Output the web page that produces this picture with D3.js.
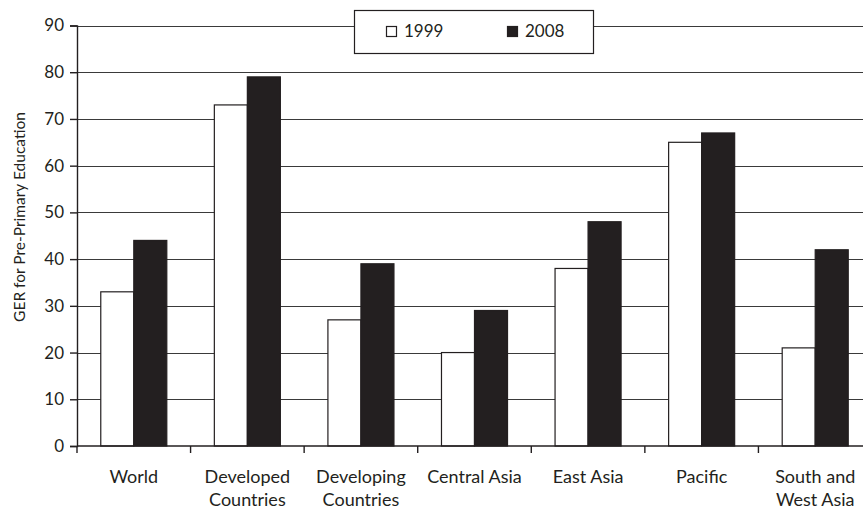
<!DOCTYPE html>
<html>
<head>
<meta charset="utf-8">
<script src="https://cdn.jsdelivr.net/npm/d3@7"></script>
<style>
  html, body { margin: 0; padding: 0; background: #fff; }
  svg { display: block; }
  text { font-family: Lato, "Open Sans", sans-serif; fill: #231f20; }
</style>
</head>
<body>
<svg id="chart" width="863" height="509"></svg>
<script>
// Gross enrolment ratio for pre-primary education, by region
const categories = [["World"], ["Developed", "Countries"], ["Developing", "Countries"], ["Central Asia"], ["East Asia"], ["Pacific"], ["South and", "West Asia"]];
const seriesNames = ["1999", "2008"];
const values1999 = [33, 73, 27, 20, 38, 65, 21];
const values2008 = [44, 79, 39, 29, 48, 67, 42];
const yTicks = [0, 10, 20, 30, 40, 50, 60, 70, 80, 90];
const yTitle = "GER for Pre-Primary Education";

const svg = d3.select("#chart");
const ink = "#231f20";

const x = d3.scaleBand().domain(d3.range(categories.length)).range([77, 872]).paddingInner(0).paddingOuter(0);
const y = d3.scaleLinear().domain([0, 90]).range([446, 25.5]);

// two adjacent bars per category, centred in the band
const inner = d3.scaleBand().domain(seriesNames).range([0, x.bandwidth()]).paddingInner(0).paddingOuter(0.72);

// horizontal gridlines
svg.append("g").selectAll("line").data(yTicks.filter(d => d > 0)).join("line")
  .attr("x1", 77).attr("x2", 872)
  .attr("y1", d => Math.round(y(d)) + 0.5).attr("y2", d => Math.round(y(d)) + 0.5)
  .attr("stroke", "#3a3a3a").attr("stroke-width", 1.2);

// bars
const rows = categories.map((c, i) => ({ i, v: [values1999[i], values2008[i]] }));
const groups = svg.append("g").selectAll("g").data(rows).join("g")
  .attr("transform", d => `translate(${x(d.i)},0)`);
groups.selectAll("rect").data(d => d.v.map((v, k) => ({ k, v }))).join("rect")
  .attr("x", d => inner(seriesNames[d.k]))
  .attr("width", inner.bandwidth())
  .attr("y", d => y(d.v))
  .attr("height", d => y(0) - y(d.v))
  .attr("fill", d => d.k === 0 ? "#fff" : ink)
  .attr("stroke", ink).attr("stroke-width", 1.2);

// y axis
const yAxis = d3.axisLeft(y).tickValues(yTicks).tickSize(7).tickPadding(6);
const gy = svg.append("g").attr("transform", "translate(77,0)").call(yAxis);
gy.select(".domain").attr("stroke", ink).attr("stroke-width", 1.4);
gy.selectAll(".tick line").attr("stroke", ink).attr("stroke-width", 1.4);
gy.selectAll(".tick text").attr("font-size", 17).attr("font-family", "Lato, sans-serif").attr("fill", ink);

// x axis with category boundary ticks
const boundaries = d3.range(categories.length + 1).map(i => 77 + i * x.bandwidth());
const gx = svg.append("g");
gx.append("line").attr("x1", 77).attr("x2", 872).attr("y1", y(0)).attr("y2", y(0))
  .attr("stroke", ink).attr("stroke-width", 1.4);
gx.selectAll("line.tk").data(boundaries).join("line").attr("class", "tk")
  .attr("x1", d => d).attr("x2", d => d).attr("y1", y(0)).attr("y2", y(0) + 7)
  .attr("stroke", ink).attr("stroke-width", 1.4);
const labels = gx.selectAll("text").data(categories).join("text")
  .attr("text-anchor", "middle").attr("font-size", 18)
  .attr("transform", (d, i) => `translate(${x(i) + x.bandwidth() / 2},483)`);
labels.selectAll("tspan").data(d => d).join("tspan")
  .attr("x", 0).attr("dy", (d, j) => j === 0 ? 0 : 23).text(d => d);

// y title
svg.append("text").attr("transform", "translate(25,217) rotate(-90)")
  .attr("text-anchor", "middle").attr("font-size", 15.5).text(yTitle);

// legend
const lg = svg.append("g");
lg.append("rect").attr("x", 354.5).attr("y", 10.5).attr("width", 239).attr("height", 43)
  .attr("fill", "#fff").attr("stroke", ink).attr("stroke-width", 1.2);
const legendX = [386, 507];
seriesNames.forEach((s, k) => {
  lg.append("rect").attr("x", legendX[k] + 0.5).attr("y", 26.5).attr("width", 10).attr("height", 10)
    .attr("fill", k === 0 ? "#fff" : ink).attr("stroke", ink).attr("stroke-width", 1.2);
  lg.append("text").attr("x", legendX[k] + 18).attr("y", 37).attr("font-size", 17).text(s);
});
</script>
</body>
</html>
